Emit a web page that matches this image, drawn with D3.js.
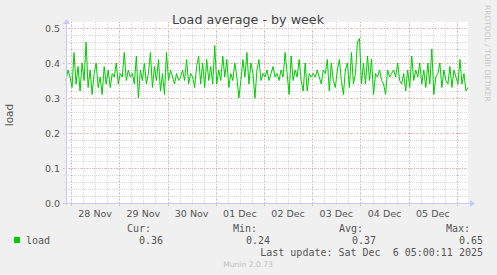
<!DOCTYPE html>
<html>
<head>
<meta charset="utf-8">
<script src="https://cdn.jsdelivr.net/npm/d3@7"></script>
<style>
  body { margin: 0; background: #f0f0f0; }
  svg { display: block; }
</style>
</head>
<body>
<svg id="chart" width="497" height="275"></svg>
<script>
// hourly load average, starting 27 Nov 21:30 UTC
const loadValues = [
  0.35, 0.38, 0.36, 0.33, 0.43, 0.34, 0.39, 0.32, 0.40, 0.35,
  0.46, 0.33, 0.38, 0.31, 0.37, 0.40, 0.33, 0.36, 0.31, 0.39,
  0.34, 0.38, 0.33, 0.37, 0.36, 0.40, 0.34, 0.37, 0.36, 0.43,
  0.35, 0.38, 0.36, 0.37, 0.34, 0.42, 0.30, 0.38, 0.35, 0.40,
  0.34, 0.37, 0.43, 0.33, 0.39, 0.35, 0.41, 0.32, 0.37, 0.31,
  0.43, 0.35, 0.38, 0.36, 0.34, 0.37, 0.35, 0.36, 0.38, 0.35,
  0.41, 0.34, 0.37, 0.36, 0.33, 0.39, 0.42, 0.34, 0.40, 0.33,
  0.41, 0.35, 0.39, 0.34, 0.45, 0.34, 0.38, 0.35, 0.42, 0.36,
  0.41, 0.33, 0.37, 0.35, 0.40, 0.36, 0.30, 0.35, 0.41, 0.36,
  0.43, 0.34, 0.40, 0.37, 0.30, 0.38, 0.41, 0.35, 0.37, 0.36,
  0.38, 0.35, 0.37, 0.39, 0.36, 0.37, 0.35, 0.38, 0.36, 0.43,
  0.37, 0.31, 0.42, 0.35, 0.38, 0.36, 0.41, 0.35, 0.32, 0.40,
  0.32, 0.37, 0.36, 0.37, 0.36, 0.38, 0.36, 0.34, 0.38, 0.37,
  0.41, 0.32, 0.40, 0.35, 0.33, 0.38, 0.41, 0.35, 0.31, 0.38,
  0.40, 0.33, 0.43, 0.34, 0.37, 0.46, 0.47, 0.34, 0.40, 0.34,
  0.42, 0.35, 0.41, 0.31, 0.37, 0.36, 0.38, 0.35, 0.34, 0.31,
  0.38, 0.36, 0.37, 0.38, 0.36, 0.40, 0.35, 0.34, 0.37, 0.32,
  0.38, 0.33, 0.42, 0.35, 0.38, 0.36, 0.40, 0.34, 0.38, 0.33,
  0.40, 0.34, 0.44, 0.31, 0.36, 0.37, 0.40, 0.33, 0.38, 0.35,
  0.34, 0.39, 0.33, 0.38, 0.36, 0.34, 0.41, 0.34, 0.37, 0.32,
  0.33
];
const startTime = Date.UTC(2025, 10, 27, 21, 30);
const endTime = Date.UTC(2025, 11, 6, 5, 30);
const yTicks = [0, 0.1, 0.2, 0.3, 0.4, 0.5];
const legendCols = ["Cur:", "Min:", "Avg:", "Max:"];
const legendVals = ["0.36", "0.24", "0.37", "0.65"];

const svg = d3.select("#chart");
const plotL = 66, plotR = 468, plotT = 28, plotB = 203;

const x = d3.scaleUtc().domain([startTime, endTime]).range([plotL, plotR]);
const y = d3.scaleLinear().domain([0, 0.5]).range([plotB, plotT]);

const data = loadValues.map((v, i) => ({ t: startTime + i * 3600000, v }));

// plot background
svg.append("rect")
  .attr("x", plotL).attr("y", plotT - 6)
  .attr("width", plotR - plotL).attr("height", plotB - plotT + 6)
  .attr("fill", "#fff");

// minor grid
const minorX = d3.utcHour.every(6).range(new Date(startTime), new Date(endTime));
svg.append("g").selectAll("line").data(minorX).join("line")
  .attr("x1", d => Math.round(x(d)) + 0.5).attr("x2", d => Math.round(x(d)) + 0.5)
  .attr("y1", plotT - 6).attr("y2", plotB + 2)
  .attr("stroke", "#d8d8d8").attr("stroke-dasharray", "1,1");
const minorY = d3.range(0, 0.501, 0.02);
svg.append("g").selectAll("line").data(minorY).join("line")
  .attr("x1", plotL - 2).attr("x2", plotR)
  .attr("y1", d => Math.round(y(d)) + 0.5).attr("y2", d => Math.round(y(d)) + 0.5)
  .attr("stroke", "#d8d8d8").attr("stroke-dasharray", "1,1");

// major grid
const days = d3.utcDay.range(new Date(startTime), new Date(endTime));
svg.append("g").selectAll("line").data(days).join("line")
  .attr("x1", d => Math.round(x(d)) + 0.5).attr("x2", d => Math.round(x(d)) + 0.5)
  .attr("y1", plotT - 6).attr("y2", plotB + 3)
  .attr("stroke", "#eeaaaa").attr("stroke-dasharray", "1,2");
svg.append("g").selectAll("line").data(yTicks).join("line")
  .attr("x1", plotL - 3).attr("x2", plotR)
  .attr("y1", d => Math.round(y(d)) + 0.5).attr("y2", d => Math.round(y(d)) + 0.5)
  .attr("stroke", "#eeaaaa").attr("stroke-dasharray", "1,2");

// axis labels
svg.append("g").selectAll("text").data(yTicks).join("text")
  .attr("x", 60).attr("y", d => y(d) + 3.5)
  .attr("text-anchor", "end")
  .attr("font-family", "DejaVu Sans").attr("font-size", 9.5)
  .attr("fill", "#555")
  .text(d => d.toFixed(1));

const labelDays = days.filter(d => +d3.utcHour.offset(d, 12) < endTime);
svg.append("g").selectAll("text").data(labelDays).join("text")
  .attr("x", d => x(d3.utcHour.offset(d, 12)))
  .attr("y", 217)
  .attr("text-anchor", "middle")
  .attr("font-family", "DejaVu Sans").attr("font-size", 9.5)
  .attr("fill", "#555")
  .text(d => d3.utcFormat("%d %b")(d));

// data line
svg.append("path")
  .datum(data)
  .attr("fill", "none")
  .attr("stroke", "#00cc00")
  .attr("stroke-width", 1)
  .attr("d", d3.line().x(d => x(d.t)).y(d => y(d.v)));

// axes with arrows
const axisColor = "#c8c8f8";
svg.append("line")
  .attr("x1", plotL - 2).attr("x2", plotR + 2)
  .attr("y1", plotB + 0.5).attr("y2", plotB + 0.5)
  .attr("stroke", axisColor);
svg.append("path")
  .attr("d", `M${plotR + 2},${plotB - 3} L${plotR + 7},${plotB + 0.5} L${plotR + 2},${plotB + 4} Z`)
  .attr("fill", axisColor);
svg.append("line")
  .attr("x1", plotL + 0.5).attr("x2", plotL + 0.5)
  .attr("y1", plotB + 2).attr("y2", plotT - 4)
  .attr("stroke", axisColor);
svg.append("path")
  .attr("d", `M${plotL - 3},${plotT - 4} L${plotL + 0.5},${plotT - 9} L${plotL + 4},${plotT - 4} Z`)
  .attr("fill", axisColor);

// titles
svg.append("text")
  .attr("x", 248).attr("y", 24)
  .attr("text-anchor", "middle")
  .attr("font-family", "DejaVu Sans").attr("font-size", 12.7)
  .attr("fill", "#444")
  .text("Load average - by week");

svg.append("text")
  .attr("transform", "translate(13,115) rotate(-90)")
  .attr("text-anchor", "middle")
  .attr("font-family", "DejaVu Sans").attr("font-size", 10.5)
  .attr("fill", "#555")
  .text("load");

svg.append("text")
  .attr("transform", "translate(485,5) rotate(90)")
  .attr("font-family", "DejaVu Sans").attr("font-size", 7.5)
  .attr("fill", "#c8c8c8")
  .text("RRDTOOL / TOBI OETIKER");

// legend
const mono = "DejaVu Sans Mono";
const colRight = [151, 257, 363, 470];
const valRight = [163, 270, 376, 483];
svg.append("g").selectAll("text").data(legendCols).join("text")
  .attr("x", (d, i) => colRight[i]).attr("y", 232)
  .attr("text-anchor", "end")
  .attr("font-family", mono).attr("font-size", 10)
  .attr("fill", "#555")
  .text(d => d);
svg.append("g").selectAll("text").data(legendVals).join("text")
  .attr("x", (d, i) => valRight[i]).attr("y", 244)
  .attr("text-anchor", "end")
  .attr("font-family", mono).attr("font-size", 10)
  .attr("fill", "#555")
  .text(d => d);

svg.append("rect")
  .attr("x", 14).attr("y", 237).attr("width", 6).attr("height", 6)
  .attr("fill", "#00cc00");
svg.append("text")
  .attr("x", 26).attr("y", 244)
  .attr("font-family", mono).attr("font-size", 10)
  .attr("fill", "#555")
  .text("load");

svg.append("text")
  .attr("x", 483).attr("y", 256)
  .attr("text-anchor", "end")
  .attr("font-family", mono).attr("font-size", 10)
  .attr("fill", "#555")
  .attr("xml:space", "preserve")
  .style("white-space", "pre")
  .text("Last update: Sat Dec  6 05:00:11 2025");

svg.append("text")
  .attr("x", 248).attr("y", 267)
  .attr("text-anchor", "middle")
  .attr("font-family", "DejaVu Sans").attr("font-size", 7.6)
  .attr("fill", "#c0c0c0")
  .text("Munin 2.0.73");
</script>
</body>
</html>
